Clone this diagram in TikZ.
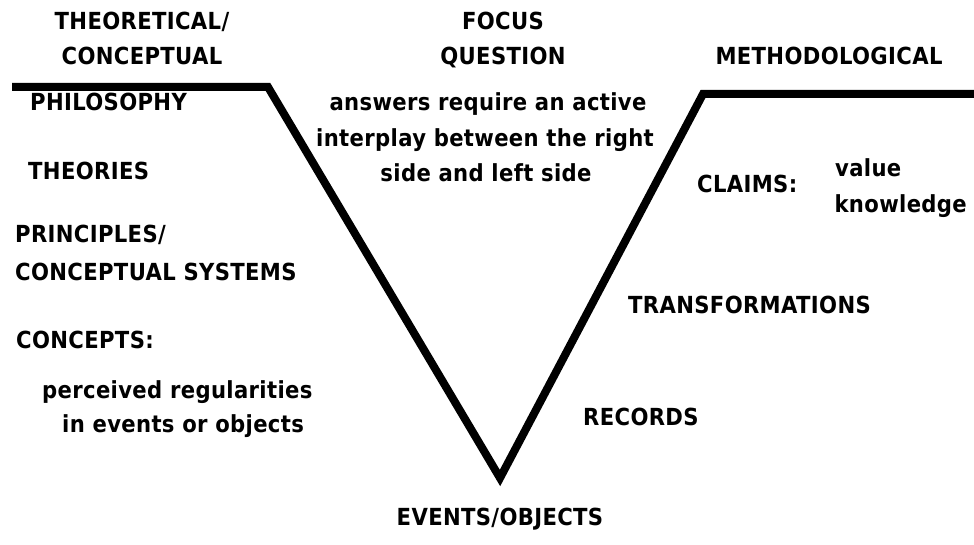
\documentclass[tikz,border=0pt]{standalone}
\usepackage{fontspec}
\setmainfont{DejaVu Sans}[LetterSpace=1.5, FakeStretch=0.9]
\begin{document}
\begin{tikzpicture}[x=1pt,y=-1pt,
  lbl/.style={inner sep=0pt, font=\fontsize{23.5}{23.5}\bfseries\selectfont},
  vee/.style={line width=8pt, line join=miter}]
\useasboundingbox (0,0) rectangle (974,545);
\coordinate (v0) at (12,87);
\coordinate (v1) at (268,87);
\coordinate (v2) at (500,478);
\coordinate (v3) at (703,94);
\coordinate (v4) at (974,94);
\draw[vee] (v0) -- (v1) -- (v2) -- (v3) -- (v4);
\node[lbl, anchor=base] (theo1) at (142,30) {THEORETICAL/};
\node[lbl, anchor=base] (theo2) at (142,65) {CONCEPTUAL};
\node[lbl, anchor=base] (focus1) at (503,30) {FOCUS};
\node[lbl, anchor=base] (focus2) at (503,65) {QUESTION};
\node[lbl, anchor=base] (meth) at (829,65) {METHODOLOGICAL};
\node[lbl, anchor=base] (ans1) at (488,111) {answers require an active};
\node[lbl, anchor=base] (ans2) at (485,147) {interplay between the right};
\node[lbl, anchor=base] (ans3) at (486,182) {side and left side};
\node[lbl, anchor=base west] (phil) at (30,111) {PHILOSOPHY};
\node[lbl, anchor=base west] (theor) at (28,180) {THEORIES};
\node[lbl, anchor=base west] (princ1) at (15,243) {PRINCIPLES/};
\node[lbl, anchor=base west] (princ2) at (15,280) {CONCEPTUAL SYSTEMS};
\node[lbl, anchor=base west] (conc) at (16,348) {CONCEPTS:};
\node[lbl, anchor=base west] (perc1) at (42,398) {perceived regularities};
\node[lbl, anchor=base west] (perc2) at (62,432) {in events or objects};
\node[lbl, anchor=base west] (claims) at (697,193) {CLAIMS:};
\node[lbl, anchor=base west] (value) at (835,177) {value};
\node[lbl, anchor=base east] (know) at (967,213) {knowledge};
\node[lbl, anchor=base west] (trans) at (628,313) {TRANSFORMATIONS};
\node[lbl, anchor=base west] (rec) at (583,425) {RECORDS};
\node[lbl, anchor=base] (events) at (500,525) {EVENTS/OBJECTS};
\end{tikzpicture}
\end{document}
